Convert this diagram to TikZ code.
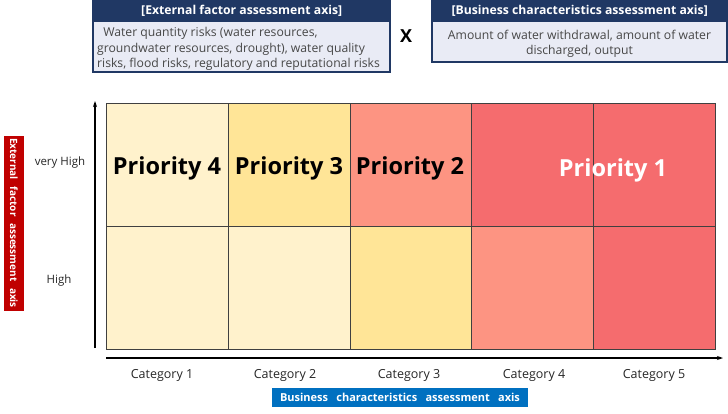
\documentclass[tikz,border=0pt]{standalone}
\usepackage{fontspec}
\setmainfont{Open Sans}
\usetikzlibrary{arrows.meta}
\definecolor{navy}{HTML}{203864}
\definecolor{paleblue}{HTML}{E9EBF5}
\definecolor{cream}{HTML}{FFF2CC}
\definecolor{yel}{HTML}{FFE597}
\definecolor{salmon}{HTML}{FD9482}
\definecolor{redc}{HTML}{F56C6E}
\definecolor{axred}{HTML}{C00000}
\definecolor{axblue}{HTML}{0070C0}
\tikzset{
  hdr/.style={fill=navy, text=white, font=\fontsize{12.2}{13}\selectfont\bfseries, inner sep=0pt},
  bodytext/.style={font=\fontsize{12.2}{15.3}\selectfont, text=black!72, inner sep=0pt},
  cellbox/.style={draw=black!75, line width=0.8pt, minimum width=122pt, minimum height=123pt, inner sep=0pt, anchor=north west},
  prio/.style={font=\fontsize{23.5}{25}\selectfont\bfseries},
  cat/.style={font=\fontsize{11.5}{13}\selectfont, text=black!85},
  catx/.style={font=\fontsize{12.5}{14}\selectfont, text=black!85},
  axarrow/.style={-{Stealth[length=6pt,width=4pt]}, line width=1.2pt},
  axlabel/.style={text=white, inner sep=0pt}
}
\begin{document}
\begin{tikzpicture}[x=1pt,y=-1pt]
\useasboundingbox (0,0) rectangle (728,413);
% top-left box
\fill[paleblue] (93,22) rectangle (390,72);
\node[hdr, minimum width=297pt, minimum height=22pt, anchor=north west] (h1) at (93,0) {[External factor assessment axis]};
\draw[navy, line width=1.2pt] (93,0) rectangle (390,72);
\node[bodytext, align=left, anchor=north west] (b1) at (97,27.5)
  {\hspace{0.5em}Water quantity risks (water resources,\\groundwater resources, drought), water quality\\risks, flood risks, regulatory and reputational risks};
% X
\node[font=\fontsize{18}{20}\selectfont\bfseries] (x) at (406,36) {X};
% top-right box
\fill[paleblue] (432,22) rectangle (727,62);
\node[hdr, minimum width=295pt, minimum height=22pt, anchor=north west] (h2) at (432,0) {[Business characteristics assessment axis]};
\draw[navy, line width=1.2pt] (432,0) rectangle (727,62);
\node[bodytext, align=center] (b2) at (579.5,43.5)
  {Amount of water withdrawal, amount of water\\discharged, output};
% grid cells
\node[cellbox, fill=cream]  (c11) at (106,103) {};
\node[cellbox, fill=yel]    (c12) at (228,103) {};
\node[cellbox, fill=salmon] (c13) at (350,103) {};
\node[cellbox, fill=redc]   (c14) at (471,103) {};
\node[cellbox, fill=redc]   (c15) at (593,103) {};
\node[cellbox, fill=cream]  (c21) at (106,226) {};
\node[cellbox, fill=cream]  (c22) at (228,226) {};
\node[cellbox, fill=yel]    (c23) at (350,226) {};
\node[cellbox, fill=salmon] (c24) at (471,226) {};
\node[cellbox, fill=redc]   (c25) at (593,226) {};
% priority labels
\node[prio] (p4) at (167,168) {Priority 4};
\node[prio] (p3) at (289,168) {Priority 3};
\node[prio] (p2) at (410,168) {Priority 2};
\node[prio, text=white] (p1) at (613,170) {Priority 1};
% axes
\coordinate (vb) at (95,348);
\coordinate (vt) at (95,101);
\coordinate (hl) at (106,358);
\coordinate (hr) at (723,358);
\draw[axarrow] (vb) -- (vt);
\draw[axarrow] (hl) -- (hr);
% y labels
\node[cat] (vh) at (60,163) {very High};
\node[cat] (hi) at (59,281) {High};
\node[fill=axred, minimum width=20pt, minimum height=175pt, inner sep=0pt] (ra) at (14,223) {};
\node[axlabel, rotate=-90, font=\fontsize{10}{11}\selectfont\bfseries] (ral) at (ra.center) {External\hspace{0.65em}factor\hspace{0.65em}assessment\hspace{0.65em}axis};
% x labels
\node[catx] (k1) at (162,375) {Category 1};
\node[catx] (k2) at (285,375) {Category 2};
\node[catx] (k3) at (409,375) {Category 3};
\node[catx] (k4) at (534,375) {Category 4};
\node[catx] (k5) at (654,375) {Category 5};
\node[fill=axblue, minimum width=256pt, minimum height=19pt, inner sep=0pt] (ba) at (400,397) {};
\node[axlabel, font=\fontsize{11}{12}\selectfont\bfseries] (bal) at (ba.center) {Business\hspace{0.75em}characteristics\hspace{0.75em}assessment\hspace{0.75em}axis};
\end{tikzpicture}
\end{document}
